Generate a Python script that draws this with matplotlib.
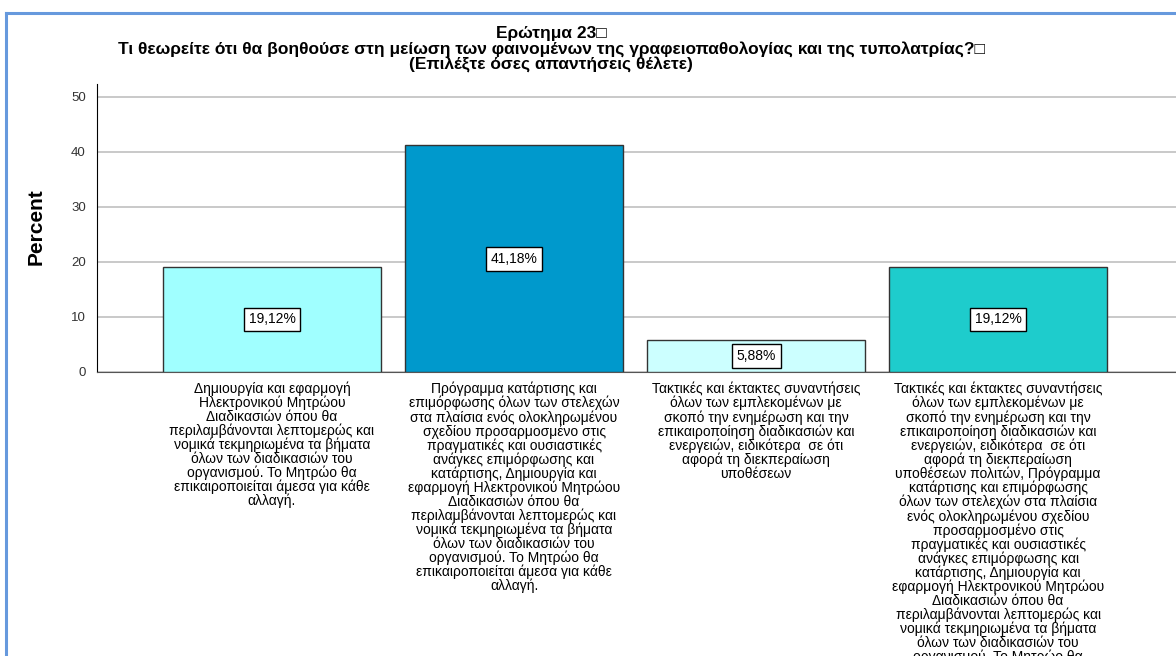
import matplotlib.pyplot as plt
from matplotlib.lines import Line2D

plt.rcParams['font.family'] = ['Liberation Sans', 'DejaVu Sans']

# answers (x-axis categories), one string per wrapped line
cat_labels = [
    "Δημιουργία και εφαρμογή\nΗλεκτρονικού Μητρώου\nΔιαδικασιών όπου θα\n"
    "περιλαμβάνονται λεπτομερώς και\nνομικά τεκμηριωμένα τα βήματα\n"
    "όλων των διαδικασιών του\nοργανισμού. Το Μητρώο θα\n"
    "επικαιροποιείται άμεσα για κάθε\nαλλαγή.",
    "Πρόγραμμα κατάρτισης και\nεπιμόρφωσης όλων των στελεχών\n"
    "στα πλαίσια ενός ολοκληρωμένου\nσχεδίου προσαρμοσμένο στις\n"
    "πραγματικές και ουσιαστικές\nανάγκες επιμόρφωσης και\n"
    "κατάρτισης, Δημιουργία και\nεφαρμογή Ηλεκτρονικού Μητρώου\n"
    "Διαδικασιών όπου θα\nπεριλαμβάνονται λεπτομερώς και\n"
    "νομικά τεκμηριωμένα τα βήματα\nόλων των διαδικασιών του\n"
    "οργανισμού. Το Μητρώο θα\nεπικαιροποιείται άμεσα για κάθε\nαλλαγή.",
    "Τακτικές και έκτακτες συναντήσεις\nόλων των εμπλεκομένων με\n"
    "σκοπό την ενημέρωση και την\nεπικαιροποίηση διαδικασιών και\n"
    "ενεργειών, ειδικότερα  σε ότι\nαφορά τη διεκπεραίωση\nυποθέσεων",
    "Τακτικές και έκτακτες συναντήσεις\nόλων των εμπλεκομένων με\n"
    "σκοπό την ενημέρωση και την\nεπικαιροποίηση διαδικασιών και\n"
    "ενεργειών, ειδικότερα  σε ότι\nαφορά τη διεκπεραίωση\n"
    "υποθέσεων πολιτών, Πρόγραμμα\nκατάρτισης και επιμόρφωσης\n"
    "όλων των στελεχών στα πλαίσια\nενός ολοκληρωμένου σχεδίου\n"
    "προσαρμοσμένο στις\nπραγματικές και ουσιαστικές\n"
    "ανάγκες επιμόρφωσης και\nκατάρτισης, Δημιουργία και\n"
    "εφαρμογή Ηλεκτρονικού Μητρώου\nΔιαδικασιών όπου θα\n"
    "περιλαμβάνονται λεπτομερώς και\nνομικά τεκμηριωμένα τα βήματα\n"
    "όλων των διαδικασιών του\nοργανισμού. Το Μητρώο θα\n"
    "επικαιροποιείται άμεσα για κάθε\nαλλαγή.",
]
percent = [19.12, 41.18, 5.88, 19.12]
bar_colors = ['#A0FFFF', '#0099CC', '#CCFFFF', '#1ECCCC']
yticks = [0, 10, 20, 30, 40, 50]

title_lines = "Ερώτημα 23\u25a1\nΤι θεωρείτε ότι θα βοηθούσε στη μείωση των φαινομένων της γραφειοπαθολογίας και της τυπολατρίας?\u25a1\n(Επιλέξτε όσες απαντήσεις θέλετε)"

W, H = 1176, 656
fig = plt.figure(figsize=(W / 100, H / 100), dpi=100)
ax = fig.add_axes([97 / W, 1 - 372 / H, 1 - 97 / W, (372 - 84) / H])

x = range(len(percent))
bars = ax.bar(x, percent, width=0.9, color=bar_colors, edgecolor='#333333', linewidth=1, zorder=3)

for b, v in zip(bars, percent):
    ax.text(b.get_x() + b.get_width() / 2, v / 2, f"{v:.2f}%".replace('.', ','),
            ha='center', va='center', fontsize=10, zorder=4,
            bbox=dict(boxstyle='square,pad=0.35', fc='white', ec='black', lw=1))

for i, lab in enumerate(cat_labels):
    ax.annotate(lab, xy=(i, 0), xycoords=('data', 'axes fraction'),
                xytext=(0, -7), textcoords='offset points',
                ha='center', va='top', fontsize=10, linespacing=0.97,
                annotation_clip=False)

ax.set_xlim(-0.723, 3.735)
ax.set_ylim(0, 52.36)
ax.set_xticks([])
ax.set_yticks(yticks)
ax.tick_params(axis='y', length=0, pad=8, labelsize=9.5, labelcolor='#333333')
ax.yaxis.grid(True, color='#C0C0C0', linewidth=1.2, zorder=0)
ax.set_axisbelow(True)
for s in ['top', 'right']:
    ax.spines[s].set_visible(False)
ax.spines['left'].set_color('black')
ax.spines['bottom'].set_color('#555555')

fig.text(36 / W, 1 - 227 / H, 'Percent', rotation=90, ha='center', va='center',
         fontsize=15, fontweight='bold')
fig.text(551 / W, 1 - 26 / H, title_lines, ha='center', va='top',
         fontsize=12.5, fontweight='bold', linespacing=1.02)

# blue frame around the chart
fig.add_artist(Line2D([6 / W, 6 / W], [0, 1 - 13 / H], color='#6699DD', lw=2.2))
fig.add_artist(Line2D([6 / W, 1], [1 - 13 / H, 1 - 13 / H], color='#6699DD', lw=2.2))

fig.savefig('out.png', dpi=100)
